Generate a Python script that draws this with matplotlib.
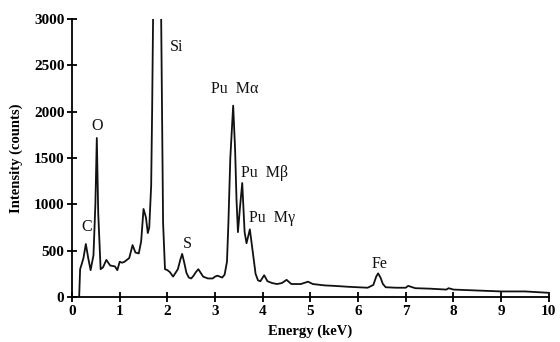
import matplotlib
matplotlib.use("Agg")
import matplotlib.pyplot as plt
import numpy as np

# Spectrum (energy keV, counts)
energy = [0.15, 0.17, 0.20, 0.24, 0.29, 0.34, 0.39, 0.45, 0.49, 0.52, 0.55, 0.60,
          0.65, 0.72, 0.80, 0.90, 0.95, 1.00, 1.05, 1.10, 1.15, 1.20, 1.27, 1.33,
          1.40, 1.45, 1.50, 1.55, 1.59, 1.62, 1.66, 1.68, 1.70, 1.78, 1.87, 1.89,
          1.91, 1.95, 2.00, 2.05, 2.12, 2.17, 2.22, 2.27, 2.31, 2.35, 2.40, 2.45,
          2.50, 2.55, 2.60, 2.65, 2.70, 2.75, 2.85, 2.95, 3.00, 3.05, 3.15, 3.20,
          3.25, 3.28, 3.32, 3.38, 3.42, 3.45,
          3.48, 3.52, 3.57, 3.62, 3.66, 3.73, 3.80, 3.85, 3.90, 3.95, 4.03, 4.10,
          4.20, 4.30, 4.40, 4.50, 4.60, 4.70, 4.80, 4.95, 5.05, 5.30, 5.50, 5.80,
          6.00, 6.20, 6.32, 6.38, 6.42, 6.47, 6.52, 6.58, 6.80, 7.00, 7.05, 7.20,
          7.50, 7.85, 7.90, 8.00, 8.50, 9.00, 9.50, 10.0]
counts = [0, 300, 350, 420, 572, 420, 290, 450, 1000, 1716, 900, 300,
          320, 400, 340, 330, 290, 380, 370, 380, 400, 420, 560, 480,
          470, 600, 950, 860, 690, 750, 1200, 2000, 3000, 9000, 3000, 1900,
          800, 300, 290, 270, 220, 260, 300, 400, 465, 380, 260, 210,
          200, 230, 270, 300, 260, 220, 200, 200, 220, 230, 210, 240,
          380, 800, 1500, 2065, 1600, 1050,
          700, 950, 1230, 700, 580, 730, 450, 250, 180, 170, 235, 170,
          150, 140, 150, 185, 140, 140, 140, 165, 140, 125, 120, 110,
          105, 100, 130, 220, 255, 210, 140, 105, 100, 100, 120, 95,
          90, 80, 95, 80, 70, 60, 60, 45]

# Peak labels: text, energy, counts
labels = ["C", "O", "Si", "Pu  M\u03b1", "S", "Pu  M\u03b2", "Pu  M\u03b3", "Fe"]
label_x = [0.30, 0.52, 2.20, 3.42, 2.42, 3.55, 3.72, 6.46]
label_y = [760, 1850, 2700, 2250, 570, 1340, 850, 360]
label_ha = ["center", "center", "center", "center", "center", "left", "left", "center"]

xticks = list(range(0, 11))
yticks = [0, 500, 1000, 1500, 2000, 2500, 3000]

plt.rcParams['font.family'] = ['Liberation Serif', 'DejaVu Serif']

fig = plt.figure(figsize=(5.6, 3.42), dpi=100)
ax = fig.add_axes([0.1286, 0.1316, 0.8514, 0.8128])

ax.plot(energy, counts, color='#111111', lw=1.3, clip_on=True)
ax.set_xlim(0, 10)
ax.set_ylim(0, 3000)

for t, x, y, ha in zip(labels, label_x, label_y, label_ha):
    ax.text(x, y, t, ha=ha, va='center', fontsize=11.5, color='#111111')

ax.spines['top'].set_visible(False)
ax.spines['right'].set_visible(False)
ax.spines['left'].set_linewidth(1.3)
ax.spines['bottom'].set_linewidth(1.3)
ax.set_xticks(xticks)
ax.set_yticks(yticks)
ax.tick_params(axis='both', direction='inout', length=7, width=1.3, labelsize=11, pad=2)
for lab in ax.get_xticklabels() + ax.get_yticklabels():
    lab.set_fontweight('bold')

ax.set_xlabel("Energy (keV)", fontsize=10.5, fontweight='bold', labelpad=5)
ax.set_ylabel("Intensity (counts)", fontsize=10.5, fontweight='bold', labelpad=8)

fig.savefig("out.png", dpi=100)
